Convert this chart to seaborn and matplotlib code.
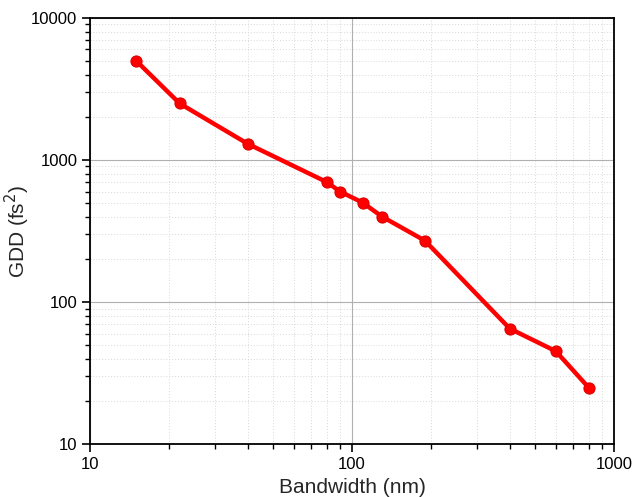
import matplotlib
matplotlib.use("Agg")
import matplotlib.pyplot as plt
import seaborn as sns
import pandas as pd
from matplotlib.ticker import LogLocator, FixedLocator, NullFormatter

bandwidth = [15, 22, 40, 80, 90, 110, 130, 190, 400, 600, 800]
gdd = [5000, 2500, 1300, 700, 600, 500, 400, 270, 65, 45, 25]
x_ticks = [10, 100, 1000]
y_ticks = [10, 100, 1000, 10000]

sns.set_theme(style="white")
plt.rcParams['font.family'] = ['Liberation Sans', 'DejaVu Sans']

df = pd.DataFrame({"Bandwidth": bandwidth, "GDD": gdd})

fig = plt.figure(figsize=(6.36, 4.97), dpi=100)
ax = fig.add_axes([0.1415, 0.1066, 0.8239, 0.8572])

sns.lineplot(data=df, x="Bandwidth", y="GDD", ax=ax, color="#ff0000",
             linewidth=3.2, marker="o", markersize=8,
             markeredgecolor="#e00000", markeredgewidth=0.8, zorder=5)

ax.set_xscale("log")
ax.set_yscale("log")
ax.set_xlim(10, 1000)
ax.set_ylim(10, 10000)
ax.xaxis.set_major_locator(FixedLocator(x_ticks))
ax.yaxis.set_major_locator(FixedLocator(y_ticks))
ax.set_xticklabels([str(t) for t in x_ticks])
ax.set_yticklabels([str(t) for t in y_ticks])
ax.xaxis.set_minor_locator(LogLocator(base=10, subs=range(2, 10)))
ax.yaxis.set_minor_locator(LogLocator(base=10, subs=range(2, 10)))
ax.xaxis.set_minor_formatter(NullFormatter())
ax.yaxis.set_minor_formatter(NullFormatter())

ax.grid(which="major", color="#b0b0b0", linewidth=0.8, linestyle="-")
ax.grid(which="minor", color="#d8d8d8", linewidth=0.7, linestyle=(0, (1, 2)))
ax.set_axisbelow(True)

for s in ax.spines.values():
    s.set_color("black")
    s.set_linewidth(1.3)

ax.tick_params(which="major", direction="out", length=6, width=1.2, colors="black",
               labelsize=12, pad=3, bottom=True, left=True, top=False, right=False)
ax.tick_params(which="minor", direction="out", length=3.5, width=1.0, colors="black",
               bottom=True, left=True, top=False, right=False)

ax.set_xlabel("Bandwidth (nm)", fontsize=15, labelpad=5)
ax.set_ylabel("GDD (fs$^2$)", fontsize=15)
ax.yaxis.set_label_coords(-0.11, 0.5)

fig.savefig("out.png", dpi=100, facecolor="white")
